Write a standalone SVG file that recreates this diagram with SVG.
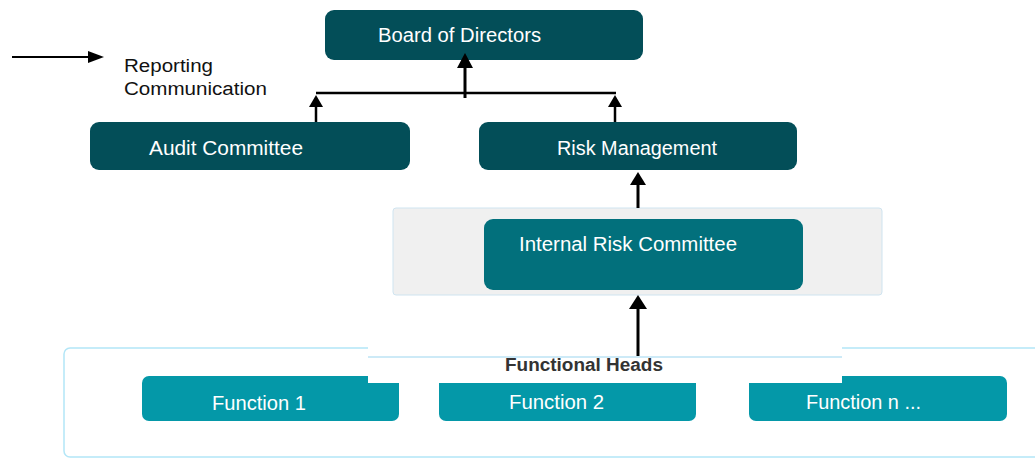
<svg xmlns="http://www.w3.org/2000/svg" width="1035" height="458" viewBox="0 0 1035 458">
<style>
  text { font-family: "Liberation Sans", Arial, sans-serif; }
  .lbl { fill: #ffffff; font-size: 20px; }
  .dark { fill: #034e58; }
  .mid { fill: #02707c; }
  .fn { fill: #0498a8; }
  .legend { fill: #111111; font-size: 18px; }
  .conn { stroke: #000000; stroke-width: 3; fill: none; }
</style>
<rect width="1035" height="458" fill="#ffffff"/>

<!-- legend -->
<g id="legend">
  <line x1="12" y1="57" x2="92" y2="57" stroke="#000" stroke-width="2"/>
  <path d="M88,51 L104,57 L88,63 Z" fill="#000"/>
  <text class="legend" x="124" y="72" textLength="89" lengthAdjust="spacingAndGlyphs">Reporting</text>
  <text class="legend" x="124" y="95" textLength="143" lengthAdjust="spacingAndGlyphs">Communication</text>
</g>

<!-- bottom container -->
<g id="functional-heads">
  <rect x="64" y="348" width="1000" height="109" rx="6" fill="#ffffff" stroke="#b3e6f7" stroke-width="1.5"/>
  <rect id="function-1" x="142" y="376" width="257" height="45" rx="7" class="fn"/>
  <rect id="function-2" x="439" y="376" width="257" height="45" rx="7" class="fn"/>
  <rect id="function-n" x="749" y="376" width="258" height="45" rx="7" class="fn"/>
  <rect x="368" y="340" width="474" height="43" fill="#ffffff"/>
  <line x1="368" y1="357" x2="842" y2="357" stroke="#cdeaf7" stroke-width="2"/>
  <text x="505" y="371" font-size="18" font-weight="bold" fill="#333333" textLength="158" lengthAdjust="spacingAndGlyphs">Functional  Heads</text>
  <text class="lbl" x="212" y="410" textLength="94" lengthAdjust="spacingAndGlyphs">Function 1</text>
  <text class="lbl" x="509" y="409" textLength="95" lengthAdjust="spacingAndGlyphs">Function 2</text>
  <text class="lbl" x="806" y="409" textLength="115" lengthAdjust="spacingAndGlyphs">Function n ...</text>
</g>

<!-- internal risk committee container -->
<g id="internal-risk-committee">
  <rect x="393" y="208" width="489" height="87" rx="3" fill="#f0f0f0" stroke="#cfe4f0" stroke-width="1"/>
  <rect x="484" y="219" width="319" height="71" rx="9" class="mid"/>
  <text class="lbl" x="519" y="251" textLength="218" lengthAdjust="spacingAndGlyphs">Internal Risk  Committee</text>
</g>

<g id="board-of-directors">
  <rect x="325" y="10" width="318" height="50" rx="9" class="dark"/>
  <text class="lbl" x="378" y="42" textLength="163" lengthAdjust="spacingAndGlyphs">Board of Directors</text>
</g>

<g id="audit-committee">
  <rect x="90" y="122" width="320" height="48" rx="9" class="dark"/>
  <text class="lbl" x="149" y="155" textLength="154" lengthAdjust="spacingAndGlyphs">Audit Committee</text>
</g>

<g id="risk-management">
  <rect x="479" y="122" width="318" height="48" rx="9" class="dark"/>
  <text class="lbl" x="557" y="155" textLength="160" lengthAdjust="spacingAndGlyphs">Risk Management</text>
</g>

<!-- connectors -->
<g id="connectors">
  <line x1="316" y1="93" x2="616" y2="93" stroke="#000" stroke-width="2.5"/>
  <line x1="465" y1="98" x2="465" y2="66" class="conn"/>
  <path d="M457,68 L465,53 L473,68 Z" fill="#000"/>
  <line x1="316" y1="122" x2="316" y2="106" stroke="#000" stroke-width="2.5"/>
  <path d="M309,107 L316,95 L323,107 Z" fill="#000"/>
  <line x1="615" y1="122" x2="615" y2="106" stroke="#000" stroke-width="2.5"/>
  <path d="M608,107 L615,95 L622,107 Z" fill="#000"/>
  <line x1="638" y1="208" x2="638" y2="184" class="conn"/>
  <path d="M630,185 L638,172 L646,185 Z" fill="#000"/>
  <line x1="638" y1="356" x2="638" y2="308" class="conn"/>
  <path d="M629,309 L638,295 L647,309 Z" fill="#000"/>
</g>
</svg>
